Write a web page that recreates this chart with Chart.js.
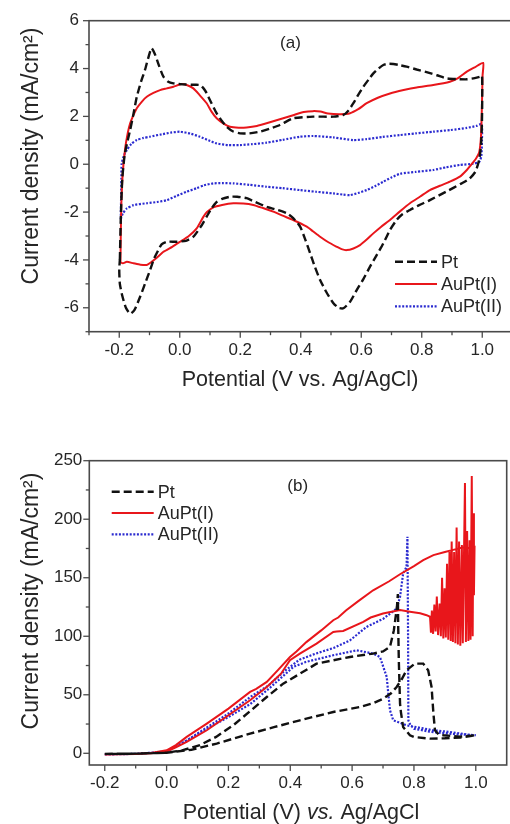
<!DOCTYPE html>
<html>
<head>
<meta charset="utf-8">
<script src="https://cdn.jsdelivr.net/npm/chart.js@4.4.1/dist/chart.umd.min.js"></script>
<style>
  html, body { margin: 0; padding: 0; background: #fff; overflow: hidden; width: 510px; height: 824px; }
  #ca { position: absolute; left: 0; top: 0; }
  #cb { position: absolute; left: 0; top: 400px; }
</style>
</head>
<body>
<canvas id="ca" width="530" height="400"></canvas>
<canvas id="cb" width="510" height="424"></canvas>
<script>
// ---------- Panel (a): cyclic voltammograms, [potential V, current mA/cm2] ----------
const ptA = [[-0.198,-4.0],[-0.195,-2.3],[-0.190,-0.6],[-0.182,0.4],[-0.172,1.0],[-0.164,1.43],[-0.153,2.1],[-0.142,2.82],[-0.128,3.45],[-0.115,3.94],[-0.104,4.45],[-0.093,4.85],[-0.082,4.6],[-0.068,4.1],[-0.054,3.66],[-0.038,3.45],[-0.021,3.38],[0.010,3.34],[0.040,3.32],[0.067,3.31],[0.080,3.15],[0.089,2.97],[0.105,2.55],[0.122,2.13],[0.140,1.8],[0.155,1.57],[0.175,1.38],[0.199,1.29],[0.230,1.29],[0.265,1.36],[0.300,1.50],[0.331,1.64],[0.375,1.92],[0.441,1.99],[0.508,1.99],[0.541,2.06],[0.558,2.25],[0.574,2.55],[0.590,2.9],[0.607,3.24],[0.625,3.55],[0.640,3.8],[0.657,4.0],[0.673,4.15],[0.690,4.2],[0.706,4.19],[0.728,4.14],[0.750,4.08],[0.783,3.96],[0.816,3.85],[0.850,3.72],[0.882,3.59],[0.915,3.56],[0.949,3.55],[0.975,3.6],[0.992,3.66],[0.999,3.7],[1.000,3.0],[0.999,1.8],[0.996,0.8],[0.990,0.2],[0.978,-0.3],[0.958,-0.6],[0.932,-0.80],[0.880,-1.15],[0.827,-1.50],[0.790,-1.72],[0.761,-1.91],[0.735,-2.1],[0.717,-2.33],[0.695,-2.75],[0.673,-3.31],[0.651,-3.8],[0.629,-4.28],[0.607,-4.8],[0.585,-5.26],[0.563,-5.75],[0.541,-6.02],[0.525,-6.0],[0.508,-5.81],[0.485,-5.35],[0.464,-4.84],[0.447,-4.3],[0.431,-3.72],[0.415,-3.15],[0.398,-2.61],[0.375,-2.25],[0.354,-2.05],[0.320,-1.9],[0.287,-1.78],[0.250,-1.58],[0.221,-1.42],[0.190,-1.36],[0.166,-1.36],[0.140,-1.45],[0.120,-1.6],[0.105,-1.85],[0.089,-2.19],[0.070,-2.6],[0.045,-3.03],[0.020,-3.2],[-0.010,-3.24],[-0.043,-3.24],[-0.060,-3.35],[-0.071,-3.59],[-0.085,-3.95],[-0.098,-4.42],[-0.115,-5.0],[-0.131,-5.54],[-0.150,-6.1],[-0.164,-6.25],[-0.178,-6.0],[-0.190,-5.5],[-0.198,-5.0],[-0.200,-4.4],[-0.198,-4.0]];

const auPt1A = [[-0.196,-4.1],[-0.195,-3.0],[-0.193,-1.6],[-0.188,-0.3],[-0.180,0.7],[-0.172,1.3],[-0.164,1.71],[-0.153,2.05],[-0.142,2.34],[-0.125,2.62],[-0.109,2.82],[-0.087,2.98],[-0.065,3.10],[-0.043,3.17],[-0.021,3.24],[0.006,3.35],[0.025,3.3],[0.045,3.17],[0.065,2.9],[0.089,2.55],[0.105,2.2],[0.122,1.92],[0.145,1.7],[0.166,1.57],[0.195,1.53],[0.221,1.54],[0.255,1.6],[0.287,1.71],[0.331,1.88],[0.375,2.05],[0.410,2.18],[0.440,2.22],[0.465,2.2],[0.490,2.12],[0.530,2.09],[0.563,2.13],[0.590,2.3],[0.618,2.55],[0.655,2.78],[0.695,2.96],[0.740,3.1],[0.783,3.21],[0.838,3.31],[0.893,3.45],[0.920,3.6],[0.949,3.87],[0.975,4.05],[1.003,4.24],[1.001,3.7],[0.999,2.5],[0.996,1.2],[0.990,0.5],[0.980,0.25],[0.965,0.0],[0.949,-0.24],[0.926,-0.52],[0.893,-0.73],[0.860,-0.9],[0.827,-1.08],[0.795,-1.35],[0.761,-1.63],[0.728,-1.97],[0.695,-2.33],[0.665,-2.62],[0.640,-2.89],[0.618,-3.15],[0.596,-3.38],[0.574,-3.52],[0.552,-3.59],[0.535,-3.55],[0.519,-3.45],[0.490,-3.25],[0.464,-3.03],[0.440,-2.8],[0.420,-2.61],[0.375,-2.33],[0.340,-2.15],[0.309,-1.98],[0.275,-1.83],[0.243,-1.70],[0.210,-1.64],[0.177,-1.63],[0.140,-1.70],[0.111,-1.80],[0.090,-2.0],[0.078,-2.2],[0.056,-2.68],[0.030,-3.0],[0.001,-3.24],[-0.025,-3.45],[-0.054,-3.66],[-0.075,-3.9],[-0.093,-4.08],[-0.109,-4.21],[-0.130,-4.2],[-0.153,-4.14],[-0.175,-4.08],[-0.188,-4.14],[-0.196,-4.1]];

const auPt2A = [[-0.195,-2.3],[-0.194,-1.5],[-0.193,-0.6],[-0.192,0.02],[-0.185,0.35],[-0.175,0.59],[-0.160,0.85],[-0.142,1.01],[-0.120,1.10],[-0.099,1.15],[-0.060,1.25],[-0.030,1.32],[0.001,1.36],[0.035,1.28],[0.067,1.15],[0.095,1.0],[0.122,0.87],[0.160,0.80],[0.199,0.80],[0.240,0.84],[0.287,0.90],[0.340,1.02],[0.397,1.15],[0.441,1.18],[0.508,1.12],[0.574,1.01],[0.618,1.05],[0.670,1.14],[0.728,1.22],[0.780,1.29],[0.838,1.36],[0.895,1.43],[0.949,1.52],[0.980,1.6],[0.998,1.68],[0.999,1.0],[0.997,0.35],[0.990,0.10],[0.970,0.02],[0.926,-0.03],[0.880,-0.13],[0.838,-0.24],[0.780,-0.32],[0.728,-0.40],[0.700,-0.55],[0.673,-0.73],[0.645,-0.92],[0.618,-1.08],[0.590,-1.2],[0.563,-1.29],[0.540,-1.27],[0.508,-1.22],[0.450,-1.15],[0.397,-1.08],[0.340,-1.0],[0.287,-0.94],[0.230,-0.86],[0.177,-0.80],[0.140,-0.79],[0.111,-0.80],[0.080,-0.88],[0.056,-1.0],[0.023,-1.15],[-0.010,-1.32],[-0.043,-1.50],[-0.075,-1.58],[-0.109,-1.63],[-0.153,-1.71],[-0.175,-1.85],[-0.188,-2.05],[-0.195,-2.3]];

const aXTicks  = [-0.3,-0.2,-0.1,0,0.1,0.2,0.3,0.4,0.5,0.6,0.7,0.8,0.9,1.0,1.1];
const aXLabels = ['','-0.2','','0.0','','0.2','','0.4','','0.6','','0.8','','1.0',''];
const aYTicks  = [-7,-6,-5,-4,-3,-2,-1,0,1,2,3,4,5,6];
const aYLabels = ['','-6','','-4','','-2','','0','','2','','4','','6'];

// ---------- Panel (b): linear sweeps, [potential V, current mA/cm2] ----------
const ptB = [[-0.2,-0.5],[-0.1,-0.3],[0.0,0.5],[0.08,3],[0.162,8.3],[0.27,16.8],[0.35,22.5],[0.431,28.2],[0.539,35.3],[0.626,39.6],[0.67,43],[0.701,46.7],[0.725,51],[0.744,56.7],[0.76,63],[0.776,70.9],[0.803,76.6],[0.83,76.6],[0.846,70.9],[0.857,56.7],[0.863,33.9],[0.868,19.7],[0.88,16],[0.895,15.4],[0.95,14.2],[1.0,15.4],[0.95,13.5],[0.9,12.8],[0.852,12.5],[0.80,14],[0.787,15.4],[0.765,22.5],[0.758,35],[0.755,42.5],[0.751,80],[0.749,110],[0.748,136],[0.745,125],[0.74,115],[0.735,105],[0.7225,90.9],[0.70,87],[0.668,85.2],[0.593,82.3],[0.485,76.6],[0.431,68],[0.377,59.5],[0.324,48.1],[0.27,36],[0.216,24],[0.16,14],[0.108,7],[0.05,2.5],[0.0,0.5],[-0.1,-0.3],[-0.2,-0.5]];

const auPt1B = [[-0.2,-1.0],[-0.15,-0.8],[-0.1,-0.5],[-0.05,0.0],[0.0,1.5],[0.03,5],[0.065,9.7],[0.13,19.7],[0.2,32.5],[0.27,45.3],[0.324,56.7],[0.37,68],[0.399,79.5],[0.431,85.2],[0.485,93.7],[0.539,103.7],[0.55,104],[0.571,104.5],[0.636,112.3],[0.66,116],[0.70,119.5],[0.755,122.4],[0.787,121],[0.82,119.6],[0.841,118],[0.852,116.7],[0.855,103],[0.858,122],[0.862,102],[0.866,127],[0.870,104],[0.874,134],[0.878,101],[0.883,128],[0.887,100],[0.891,150],[0.895,98],[0.899,141],[0.903,99],[0.907,162],[0.911,97],[0.915,172],[0.919,96],[0.922,181],[0.926,95],[0.930,172],[0.934,94],[0.938,193],[0.942,93],[0.946,181],[0.950,92],[0.955,178],[0.958,94],[0.965,231],[0.968,95],[0.972,190],[0.976,96],[0.980,182],[0.983,97],[0.987,237],[0.990,100],[0.992,205],[0.994,135],[0.996,176],[0.99,175],[0.96,176],[0.93,174],[0.90,172],[0.863,169.3],[0.83,165],[0.80,160],[0.755,153],[0.72,147],[0.668,139.3],[0.62,130],[0.58,122],[0.555,116],[0.539,113.7],[0.50,105],[0.452,95],[0.42,87],[0.399,82.3],[0.36,71],[0.324,61],[0.29,55],[0.27,52.4],[0.2,38.2],[0.13,25.4],[0.065,14],[0.03,7],[0.0,2.6],[-0.05,0.2],[-0.1,-0.6],[-0.2,-1.0]];

const auPt2B = [[-0.2,-1.0],[-0.1,-0.5],[0.0,1.5],[0.065,11],[0.13,21],[0.2,31],[0.27,42],[0.33,55],[0.41,73.8],[0.45,78],[0.539,83.8],[0.615,88],[0.668,85.2],[0.69,82.3],[0.712,65.2],[0.717,51],[0.7225,36.8],[0.733,28.2],[0.776,23.9],[0.863,19.7],[0.917,18.2],[0.992,15.4],[1.0,15.5],[0.95,16],[0.9,17],[0.85,18.5],[0.80,21],[0.789,23.9],[0.782,28],[0.781,100],[0.779,185],[0.776,159.3],[0.765,153.6],[0.755,133.6],[0.744,123.6],[0.701,115],[0.647,108],[0.593,96.5],[0.54,90],[0.48,85],[0.43,80],[0.38,70],[0.33,58],[0.27,48],[0.2,34],[0.13,22],[0.065,11],[0.0,1.5],[-0.1,-0.5],[-0.2,-1.0]];

const bXTicks  = [-0.2,-0.1,0,0.1,0.2,0.3,0.4,0.5,0.6,0.7,0.8,0.9,1.0];
const bXLabels = ['-0.2','','0.0','','0.2','','0.4','','0.6','','0.8','','1.0'];
const bYTicks  = [0,25,50,75,100,125,150,175,200,225,250];
const bYLabels = ['0','','50','','100','','150','','200','','250'];

const seriesNames = ['Pt', 'AuPt(I)', 'AuPt(II)'];

// ---------- shared styling ----------
const FONT = "'Liberation Sans', Arial, Helvetica, sans-serif";
const TEXT = '#262626';
const AXIS = '#4a4a4a';
const styles = [
  { borderColor: '#111111', borderWidth: 2.4, borderDash: [8, 4] },
  { borderColor: '#e8161b', borderWidth: 2.0, borderDash: [] },
  { borderColor: '#2b2bd0', borderWidth: 2.2, borderDash: [2, 1.6] }
];

Chart.defaults.font.family = FONT;
Chart.defaults.font.size = 17;
Chart.defaults.color = TEXT;

const toPts = arr => arr.map(p => ({ x: p[0], y: p[1] }));

function makeDatasets(series, tension) {
  return series.map((s, i) => Object.assign({
    label: seriesNames[i],
    data: toPts(s),
    showLine: true,
    pointRadius: 0,
    pointHoverRadius: 0,
    fill: false,
    tension: tension
  }, styles[i]));
}

// frame, tick marks, axis titles, panel tag and legend
const decor = {
  id: 'decor',
  afterDraw(chart, args, o) {
    const { ctx, chartArea: a, scales } = chart;
    ctx.save();
    ctx.setLineDash([]);
    ctx.strokeStyle = AXIS;
    ctx.lineWidth = 1.6;
    ctx.strokeRect(a.left, a.top, a.right - a.left, a.bottom - a.top);

    ctx.lineWidth = 1.3;
    scales.x.ticks.forEach(t => {
      const px = scales.x.getPixelForValue(t.value);
      const len = t.label ? 6 : 3.5;
      ctx.beginPath(); ctx.moveTo(px, a.bottom); ctx.lineTo(px, a.bottom + len); ctx.stroke();
    });
    scales.y.ticks.forEach(t => {
      const py = scales.y.getPixelForValue(t.value);
      const len = t.label ? 6 : 3.5;
      ctx.beginPath(); ctx.moveTo(a.left, py); ctx.lineTo(a.left - len, py); ctx.stroke();
    });

    ctx.fillStyle = TEXT;
    ctx.textBaseline = 'middle';

    // y-axis title
    ctx.font = `23px ${FONT}`;
    ctx.textAlign = 'center';
    ctx.save();
    ctx.translate(o.yTitleAt[0], o.yTitleAt[1]);
    ctx.rotate(-Math.PI / 2);
    ctx.fillText('Current density (mA/cm²)', 0, 0);
    ctx.restore();

    // x-axis title, possibly with an italic part
    const fontOf = it => `${it ? 'italic ' : ''}21.5px ${FONT}`;
    let total = 0;
    const widths = o.xTitle.map(p => { ctx.font = fontOf(p[1]); const w = ctx.measureText(p[0]).width; total += w; return w; });
    let xx = o.xTitleAt[0] - total / 2;
    ctx.textAlign = 'left';
    o.xTitle.forEach((p, i) => { ctx.font = fontOf(p[1]); ctx.fillText(p[0], xx, o.xTitleAt[1]); xx += widths[i]; });

    // panel tag
    ctx.font = `17px ${FONT}`;
    ctx.textAlign = 'center';
    ctx.fillText(o.tag, o.tagAt[0], o.tagAt[1]);

    // legend
    chart.data.datasets.forEach((ds, i) => {
      const ly = o.legendAt[1] + i * o.legendStep;
      ctx.strokeStyle = ds.borderColor;
      ctx.lineWidth = ds.borderWidth;
      ctx.setLineDash(ds.borderDash || []);
      ctx.beginPath(); ctx.moveTo(o.legendAt[0], ly); ctx.lineTo(o.legendAt[0] + 42, ly); ctx.stroke();
      ctx.setLineDash([]);
      ctx.font = `18px ${FONT}`;
      ctx.textAlign = 'left';
      ctx.fillText(ds.label, o.legendAt[0] + 46, ly + 1);
    });
    ctx.restore();
  }
};

function axis(min, max, ticks, labels, isX, yAxisWidth, xAxisHeight, pad) {
  return {
    type: 'linear',
    position: isX ? 'bottom' : 'left',
    min: min, max: max,
    grid: { display: false, drawTicks: false },
    border: { display: false },
    afterBuildTicks: s => { s.ticks = ticks.map(v => ({ value: v })); },
    afterFit: s => { if (isX) s.height = xAxisHeight; else s.width = yAxisWidth; },
    ticks: {
      autoSkip: false,
      maxRotation: 0,
      padding: pad,
      font: { size: 17, family: FONT },
      color: TEXT,
      callback: (v, i) => labels[i]
    }
  };
}

function makeChart(id, series, tension, xr, yr, layoutPad, yW, xH, deco, xPad, yPad) {
  return new Chart(document.getElementById(id), {
    type: 'scatter',
    data: { datasets: makeDatasets(series, tension) },
    options: {
      responsive: false,
      animation: false,
      devicePixelRatio: 1,
      layout: { padding: layoutPad },
      plugins: { legend: { display: false }, tooltip: { enabled: false }, decor: deco },
      scales: {
        x: axis(xr[0], xr[1], xr[2], xr[3], true, yW, xH, xPad),
        y: axis(yr[0], yr[1], yr[2], yr[3], false, yW, xH, yPad)
      }
    },
    plugins: [decor]
  });
}

makeChart('ca', [ptA, auPt1A, auPt2A], 0.2,
  [-0.3, 1.1, aXTicks, aXLabels],
  [-7, 6, aYTicks, aYLabels],
  { top: 20.7, left: 0, right: 17.5, bottom: 28.3 }, 89, 40,
  {
    yTitleAt: [32, 156],
    xTitle: [['Potential (V vs. Ag/AgCl)', false]],
    xTitleAt: [300, 380],
    tag: '(a)', tagAt: [290.5, 43],
    legendAt: [395, 261.7], legendStep: 22.3
  }, 8, 10);

makeChart('cb', [ptB, auPt1B, auPt2B], 0,
  [-0.25, 1.1, bXTicks, bXLabels],
  [-10, 250, bYTicks, bYLabels],
  { top: 60.7, left: 0, right: 3.3, bottom: 19 }, 89.3, 40,
  {
    yTitleAt: [32, 201],
    xTitle: [['Potential (V) ', false], ['vs.', true], [' Ag/AgCl', false]],
    xTitleAt: [301, 413],
    tag: '(b)', tagAt: [297.7, 86],
    legendAt: [111.7, 91.7], legendStep: 21.3
  }, 8, 7);
</script>
</body>
</html>
